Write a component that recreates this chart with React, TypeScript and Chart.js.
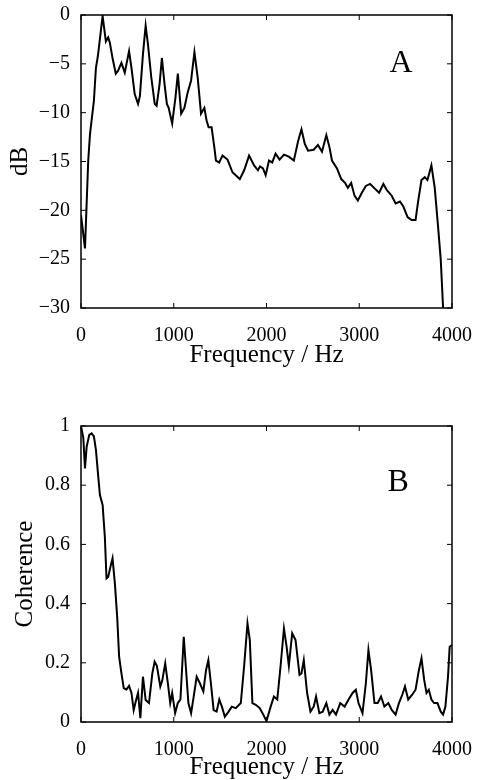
import React, { useEffect, useRef } from "react";
import { Chart, registerables } from "chart.js";

Chart.register(...registerables);

// Panel A: spectrum (dB)
const freqA = [0, 43, 78, 97, 139, 161, 182, 233, 268, 293, 310, 340, 375, 400, 436, 472, 518, 544, 579, 615, 635, 668, 697, 722, 758, 795, 815, 847, 872, 901, 926, 945, 983, 1019, 1044, 1080, 1115, 1151, 1187, 1223, 1258, 1294, 1330, 1354, 1376, 1408, 1437, 1455, 1490, 1526, 1580, 1633, 1712, 1759, 1812, 1866, 1908, 1930, 1962, 1991, 2027, 2062, 2098, 2141, 2188, 2241, 2295, 2341, 2377, 2413, 2448, 2509, 2555, 2598, 2645, 2678, 2706, 2760, 2806, 2849, 2877, 2913, 2949, 2985, 3028, 3071, 3117, 3171, 3214, 3260, 3296, 3350, 3392, 3439, 3475, 3521, 3564, 3607, 3636, 3671, 3707, 3735, 3778, 3814, 3850, 3879, 3904, 3920];
const dbA = [-20.5, -23.9, -14.9, -12.2, -8.8, -5.4, -4.2, -0.1, -2.7, -2.3, -2.8, -4.4, -6.0, -5.7, -4.9, -5.9, -3.7, -5.4, -8.1, -9.1, -8.3, -4.0, -1.1, -3.0, -6.4, -9.1, -9.3, -7.1, -4.4, -7.1, -9.1, -9.5, -11.1, -8.4, -6.0, -10.1, -9.5, -7.9, -6.7, -3.8, -6.4, -10.1, -9.5, -10.8, -11.5, -11.5, -13.5, -14.9, -15.1, -14.4, -14.8, -16.1, -16.8, -15.9, -14.4, -15.4, -15.9, -15.5, -15.7, -16.4, -14.9, -15.1, -14.2, -14.8, -14.3, -14.5, -14.9, -12.9, -11.7, -13.2, -13.9, -13.8, -13.3, -14.0, -12.3, -13.5, -14.9, -15.7, -16.8, -17.2, -17.7, -17.2, -18.5, -19.0, -18.2, -17.5, -17.3, -17.8, -18.2, -17.3, -17.9, -18.5, -19.3, -19.1, -19.6, -20.7, -21.0, -21.0, -19.0, -16.9, -16.6, -16.9, -15.4, -17.7, -21.7, -25.1, -30.0, -33.0];

// Panel B: coherence
const freqB = [0, 25, 43, 61, 89, 115, 139, 161, 186, 204, 233, 257, 275, 293, 318, 340, 365, 390, 411, 436, 461, 490, 518, 544, 568, 590, 615, 640, 668, 697, 733, 769, 794, 818, 855, 876, 908, 937, 962, 983, 1015, 1044, 1072, 1108, 1133, 1158, 1187, 1215, 1247, 1283, 1319, 1348, 1373, 1401, 1430, 1462, 1491, 1519, 1551, 1591, 1626, 1669, 1723, 1759, 1795, 1820, 1848, 1884, 1927, 1973, 2000, 2045, 2080, 2116, 2152, 2188, 2217, 2241, 2277, 2313, 2356, 2377, 2402, 2438, 2474, 2509, 2534, 2570, 2606, 2645, 2678, 2713, 2749, 2795, 2842, 2885, 2928, 2963, 2992, 3035, 3071, 3099, 3128, 3164, 3199, 3235, 3271, 3314, 3350, 3392, 3428, 3464, 3493, 3528, 3571, 3607, 3643, 3671, 3700, 3725, 3750, 3778, 3807, 3843, 3879, 3904, 3929, 3957, 3975, 4000];
const cohB = [1.0, 0.96, 0.857, 0.93, 0.97, 0.975, 0.965, 0.919, 0.829, 0.767, 0.733, 0.626, 0.485, 0.49, 0.525, 0.553, 0.469, 0.356, 0.221, 0.164, 0.114, 0.11, 0.122, 0.098, 0.04, 0.069, 0.098, 0.013, 0.153, 0.074, 0.064, 0.164, 0.204, 0.19, 0.12, 0.14, 0.198, 0.13, 0.064, 0.098, 0.03, 0.064, 0.076, 0.288, 0.175, 0.064, 0.03, 0.086, 0.153, 0.13, 0.103, 0.175, 0.209, 0.13, 0.04, 0.035, 0.076, 0.052, 0.018, 0.035, 0.052, 0.047, 0.064, 0.19, 0.333, 0.277, 0.064, 0.058, 0.047, 0.02, 0.003, 0.052, 0.086, 0.076, 0.19, 0.316, 0.254, 0.19, 0.3, 0.277, 0.159, 0.164, 0.209, 0.098, 0.035, 0.052, 0.086, 0.03, 0.035, 0.064, 0.025, 0.041, 0.025, 0.064, 0.052, 0.076, 0.098, 0.109, 0.064, 0.03, 0.13, 0.243, 0.175, 0.064, 0.064, 0.086, 0.052, 0.064, 0.041, 0.025, 0.064, 0.092, 0.12, 0.076, 0.092, 0.109, 0.175, 0.215, 0.142, 0.098, 0.109, 0.076, 0.064, 0.064, 0.035, 0.025, 0.052, 0.153, 0.254, 0.26];

const xTitle = "Frequency / Hz";
const yTitleA = "dB";
const yTitleB = "Coherence";
const labelA = "A";
const labelB = "B";

const FONT = "'Liberation Serif', 'Times New Roman', serif";

type PanelCfg = {
  xs: number[];
  ys: number[];
  yMin: number;
  yMax: number;
  yStep: number;
  yTitle: string;
  yTitlePad: number;
  fmt: (v: number) => string;
  topPad: number;
  xAxisH: number;
  xTitlePad: number;
  letter: string;
  letterX: number;
  letterY: number;
};

function makeChart(canvas: HTMLCanvasElement, c: PanelCfg) {
  const framePlugin = {
    id: "frame",
    afterDraw(chart: any) {
      const { ctx, chartArea } = chart;
      const { left, top, right, bottom } = chartArea;
      const xs = chart.scales.x;
      const ys = chart.scales.y;
      ctx.save();
      ctx.strokeStyle = "#000";
      ctx.lineWidth = 1.5;
      ctx.strokeRect(left, top, right - left, bottom - top);
      ctx.lineWidth = 1;
      const tl = 5;
      xs.ticks.forEach((t: any) => {
        const px = xs.getPixelForValue(t.value);
        ctx.beginPath();
        ctx.moveTo(px, bottom);
        ctx.lineTo(px, bottom - tl);
        ctx.moveTo(px, top);
        ctx.lineTo(px, top + tl);
        ctx.stroke();
      });
      ys.ticks.forEach((t: any) => {
        const py = ys.getPixelForValue(t.value);
        ctx.beginPath();
        ctx.moveTo(left, py);
        ctx.lineTo(left + tl, py);
        ctx.moveTo(right, py);
        ctx.lineTo(right - tl, py);
        ctx.stroke();
      });
      ctx.fillStyle = "#000";
      ctx.font = `32px ${FONT}`;
      ctx.textAlign = "center";
      ctx.textBaseline = "middle";
      ctx.fillText(c.letter, xs.getPixelForValue(c.letterX), ys.getPixelForValue(c.letterY));
      ctx.restore();
    },
  };

  return new Chart(canvas, {
    type: "line",
    data: {
      datasets: [
        {
          data: c.xs.map((x, i) => ({ x, y: c.ys[i] })),
          borderColor: "#000",
          borderWidth: 2,
          pointRadius: 0,
          tension: 0,
          fill: false,
        },
      ],
    },
    options: {
      responsive: false,
      animation: false,
      events: [],
      layout: { padding: { top: c.topPad, right: 26, left: 0, bottom: 0 } },
      plugins: { legend: { display: false }, tooltip: { enabled: false } },
      scales: {
        x: {
          type: "linear",
          min: 0,
          max: 4000,
          grid: { display: false },
          border: { display: false },
          ticks: {
            stepSize: 1000,
            color: "#000",
            padding: 8,
            maxRotation: 0,
            font: { family: FONT, size: 20 },
            callback: (v: any) => String(Math.round(Number(v))),
          },
          title: {
            display: true,
            text: xTitle,
            color: "#000",
            font: { family: FONT, size: 25 },
            padding: { top: 0, bottom: c.xTitlePad },
          },
          afterFit: (s: any) => {
            s.height = c.xAxisH;
          },
        },
        y: {
          type: "linear",
          min: c.yMin,
          max: c.yMax,
          grid: { display: false },
          border: { display: false },
          ticks: {
            stepSize: c.yStep,
            color: "#000",
            padding: 3,
            font: { family: FONT, size: 20 },
            callback: (v: any) => c.fmt(Number(v)),
          },
          title: {
            display: true,
            text: c.yTitle,
            color: "#000",
            font: { family: FONT, size: 25 },
            padding: { top: c.yTitlePad, bottom: 0 },
          },
          afterFit: (s: any) => {
            s.width = 81;
          },
        },
      },
    },
    plugins: [framePlugin],
  } as any);
}

export default function App() {
  const refA = useRef<HTMLCanvasElement>(null);
  const refB = useRef<HTMLCanvasElement>(null);

  useEffect(() => {
    document.body.style.margin = "0";
    const a = makeChart(refA.current!, {
      xs: freqA,
      ys: dbA,
      yMin: -30,
      yMax: 0,
      yStep: 5,
      yTitle: yTitleA,
      yTitlePad: 5,
      fmt: (v) => String(Math.round(v)).replace("-", "\u2212"),
      topPad: 14,
      xAxisH: 82,
      xTitlePad: 20,
      letter: labelA,
      letterX: 3450,
      letterY: -5,
    });
    const b = makeChart(refB.current!, {
      xs: freqB,
      ys: cohB,
      yMin: 0,
      yMax: 1,
      yStep: 0.2,
      yTitle: yTitleB,
      yTitlePad: 10,
      fmt: (v) => (Math.abs(v) < 1e-9 ? "0" : Math.abs(v - 1) < 1e-9 ? "1" : v.toFixed(1)),
      topPad: 36,
      xAxisH: 58,
      xTitlePad: -2,
      letter: labelB,
      letterX: 3420,
      letterY: 0.81,
    });
    return () => {
      a.destroy();
      b.destroy();
    };
  }, []);

  return (
    <div style={{ position: "relative", width: 480, height: 780, background: "#fff" }}>
      <canvas ref={refA} width={480} height={390} style={{ position: "absolute", left: 0, top: 0 }} />
      <canvas ref={refB} width={480} height={390} style={{ position: "absolute", left: 0, top: 390 }} />
    </div>
  );
}
